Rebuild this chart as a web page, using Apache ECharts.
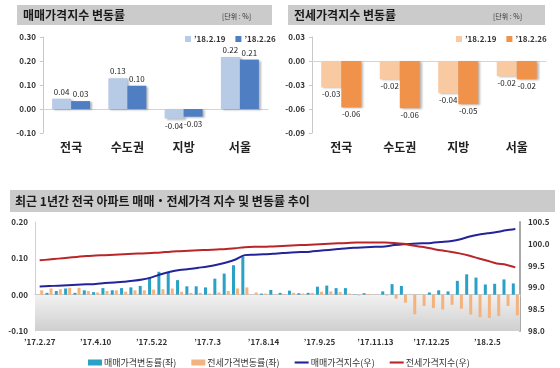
<!DOCTYPE html>
<html><head><meta charset="utf-8">
<script src="https://cdn.jsdelivr.net/npm/echarts@6/dist/echarts.min.js"></script>
<style>
html,body{margin:0;padding:0;background:#fff;width:560px;height:368px;overflow:hidden}
#a,#b,#c{position:absolute}
#a{left:0;top:0;width:280px;height:185px}
#b{left:280px;top:0;width:280px;height:185px}
#c{left:0;top:185px;width:560px;height:183px}
</style></head><body>
<div id="a"></div><div id="b"></div><div id="c"></div>
<script>
// ---------- data ----------
const regions = ['전국', '수도권', '지방', '서울'];
const weekNames = ['\u201918.2.19', '\u201918.2.26'];
const saleChg219 = [0.043, 0.128, -0.04, 0.217];
const saleChg226 = [0.033, 0.097, -0.032, 0.206];
const jeonseChg219 = [-0.033, -0.023, -0.04, -0.019];
const jeonseChg226 = [-0.058, -0.059, -0.054, -0.023];
const saleTicks = [-0.1, 0.3, 0.1];      // min, max, step
const jeonseTicks = [-0.09, 0.03, 0.03];
const trendLeftTicks = [-0.1, 0.2, 0.1];
const trendRightTicks = [98, 100.5, 0.5];

const weeks = ["'17.2.27","'17.3.6","'17.3.13","'17.3.20","'17.3.27","'17.4.3","'17.4.10","'17.4.17","'17.4.24","'17.5.1",
"'17.5.8","'17.5.15","'17.5.22","'17.5.29","'17.6.5","'17.6.12","'17.6.19","'17.6.26","'17.7.3","'17.7.10",
"'17.7.17","'17.7.24","'17.7.31","'17.8.7","'17.8.14","'17.8.21","'17.8.28","'17.9.4","'17.9.11","'17.9.18",
"'17.9.25","'17.10.9","'17.10.16","'17.10.23","'17.10.30","'17.11.6","'17.11.13","'17.11.20","'17.11.27","'17.12.4",
"'17.12.11","'17.12.18","'17.12.25","'18.1.1","'18.1.8","'18.1.15","'18.1.22","'18.1.29","'18.2.5","'18.2.12",
"'18.2.19","'18.2.26"].map(s => s.replace("'", '\u2019'));
const saleWeekly = [0.00,0.005,0.01,0.017,0.005,0.012,0.007,0.018,0.012,0.018,
0.02,0.024,0.046,0.063,0.06,0.04,0.023,0.023,0.02,0.044,
0.058,0.081,0.105,0.00,0.003,0.013,0.005,0.011,0.004,0.005,
0.022,0.025,0.018,0.018,0.001,0.004,0.00,0.009,0.029,0.024,
0.00,0.00,0.006,0.012,0.009,0.038,0.056,0.047,0.028,0.03,
0.042,0.031];
const jeonseWeekly = [0.012,0.017,0.015,0.019,0.019,0.01,0.006,0.01,0.012,0.008,
0.012,0.012,0.014,0.015,0.017,0.008,0.005,0.005,0.003,0.006,
0.01,0.017,0.02,0.006,0.003,0.001,0.002,0.005,0.003,0.005,
0.008,0.009,0.007,0.003,-0.002,0.002,0.00,-0.002,-0.011,-0.022,
-0.054,-0.031,-0.037,-0.041,-0.028,-0.039,-0.055,-0.062,-0.064,-0.059,
-0.031,-0.057];
const saleIndex = [99.02,99.03,99.04,99.05,99.06,99.07,99.08,99.10,99.11,99.13,
99.15,99.18,99.23,99.30,99.36,99.40,99.42,99.45,99.48,99.52,
99.57,99.64,99.74,99.75,99.76,99.77,99.79,99.80,99.81,99.82,
99.84,99.86,99.88,99.90,99.91,99.92,99.93,99.94,99.97,99.99,
100.00,100.01,100.02,100.04,100.06,100.10,100.16,100.21,100.24,100.27,
100.31,100.34];
const jeonseIndex = [99.62,99.64,99.66,99.68,99.70,99.72,99.73,99.74,99.75,99.76,
99.77,99.78,99.79,99.80,99.82,99.83,99.84,99.85,99.86,99.87,
99.88,99.90,99.92,99.93,99.93,99.94,99.95,99.96,99.97,99.98,
99.99,100.00,100.01,100.02,100.03,100.03,100.03,100.03,100.02,100.00,
99.96,99.93,99.89,99.85,99.82,99.78,99.73,99.67,99.61,99.55,
99.52,99.46];

// ---------- helpers ----------
const FONT = "'Noto Sans CJK KR', 'Noto Sans', sans-serif";
const HEADER = '#cbcbcb';
function header(x, y, w, h, title, tx, size, unitX) {
  const g = [
    {type:'rect', shape:{x:x, y:y, width:w, height:h}, style:{fill:HEADER}, z:0},
    {type:'text', style:{text:title, x:tx, y:y+h/2, fill:'#1a1a1a', fontSize:size, fontWeight:'bold', fontFamily:FONT, verticalAlign:'middle'}, z:1}
  ];
  if (unitX != null) g.push({type:'text', style:{text:'[단위 : %]', x:unitX, y:y+h/2+1, fill:'#333', fontSize:7, fontFamily:FONT, verticalAlign:'middle'}, z:1});
  return g;
}
function barData(arr) {
  return arr.map(v => ({value:v, label:{position: v < 0 ? 'bottom' : 'top'}}));
}
function smallBarChart(el, opts) {
  const c = echarts.init(el, null, {renderer:'canvas'});
  const lab = {show:true, fontSize:8, color:'#222', distance:3, fontFamily:FONT, formatter:p => p.value.toFixed(2)};
  const shadow = {shadowColor:'rgba(0,0,0,0.28)', shadowBlur:2, shadowOffsetX:2, shadowOffsetY:1};
  c.setOption({
    animation:false,
    textStyle:{fontFamily:FONT},
    graphic: header(opts.hx, 5, opts.hw, 20, opts.title, opts.hx + 6, 12, opts.unitX),
    legend:{left:opts.legendLeft, top:30, width:120, orient:'horizontal', itemWidth:6, itemHeight:6, itemGap:10, icon:'rect',
      textStyle:{fontSize:8, color:'#333', fontWeight:'bold', padding:[0,0,0,-2]}, data:weekNames},
    grid:{left:opts.left, right:opts.right, top:37, bottom:52},
    xAxis:[
      {type:'category', data:regions, axisLine:{show:false, onZero:false}, axisTick:{show:false},
       axisLabel:{fontSize:12, fontWeight:'bold', color:'#222', margin:8}},
      {type:'category', data:regions, position:'bottom', axisLine:{show:true, onZero:true, lineStyle:{color:'#d4d4d4'}},
       axisTick:{show:false}, axisLabel:{show:false}}
    ],
    yAxis:{type:'value', min:opts.ticks[0], max:opts.ticks[1], interval:opts.ticks[2],
      axisLine:{show:true, lineStyle:{color:'#c8c8c8'}}, axisTick:{show:true, length:3, lineStyle:{color:'#c8c8c8'}},
      splitLine:{show:false},
      axisLabel:{fontSize:8, color:'#333', fontWeight:'bold', margin:7, formatter:v => v.toFixed(2)}},
    series:[
      {name:weekNames[0], type:'bar', data:barData(opts.a), barWidth:opts.bw, barGap:'0%',
       itemStyle:Object.assign({color:opts.c1}, shadow), label:lab},
      {name:weekNames[1], type:'bar', data:barData(opts.b), barWidth:opts.bw, barGap:'0%',
       itemStyle:Object.assign({color:opts.c2}, shadow), label:lab}
    ]
  });
}

smallBarChart(document.getElementById('a'), {
  hx:17, hw:255, title:'매매가격지수 변동률', unitX:222, legendLeft:180,
  left:43, right:12, ticks:saleTicks, bw:19, a:saleChg219, b:saleChg226, c1:'#b7cae6', c2:'#4f7fc2'
});
smallBarChart(document.getElementById('b'), {
  hx:8, hw:257, title:'전세가격지수 변동률', unitX:213, legendLeft:171,
  left:32, right:14, ticks:jeonseTicks, bw:20, a:jeonseChg219, b:jeonseChg226, c1:'#f9c9a2', c2:'#f0924a'
});

// ---------- bottom trend chart ----------
const cc = echarts.init(document.getElementById('c'), null, {renderer:'canvas'});
const lineIcon = 'path://M0,0 H20 V3 H0 Z';
cc.setOption({
  animation:false,
  textStyle:{fontFamily:FONT},
  graphic: header(10, 5, 545, 22, '최근 1년간 전국 아파트 매매・전세가격 지수 및 변동률 추이', 15, 12, null),
  legend:{left:83, top:168, itemWidth:14, itemHeight:6, itemGap:15,
    textStyle:{fontSize:9, color:'#333', padding:[0,0,0,-3]},
    data:[
      {name:'매매가격변동률(좌)', icon:'rect'},
      {name:'전세가격변동률(좌)', icon:'rect'},
      {name:'매매가격지수(우)', icon:lineIcon},
      {name:'전세가격지수(우)', icon:lineIcon}
    ]},
  grid:{left:35, right:40, top:37, bottom:37},
  xAxis:[
    {type:'category', data:weeks, axisLine:{show:false, onZero:false}, axisTick:{show:false},
     axisLabel:{interval:5, fontSize:8, fontWeight:'bold', color:'#333', margin:7}},
    {type:'category', data:weeks, position:'bottom',
     axisLine:{show:true, onZero:true, onZeroAxisIndex:0, lineStyle:{color:'#bdbdbd'}},
     axisTick:{show:true, interval:0, length:2, lineStyle:{color:'#bdbdbd'}}, axisLabel:{show:false}}
  ],
  yAxis:[
    {type:'value', min:trendLeftTicks[0], max:trendLeftTicks[1], interval:trendLeftTicks[2],
     axisLine:{show:true, lineStyle:{color:'#d0d0d0'}}, axisTick:{show:false}, splitLine:{show:false},
     axisLabel:{fontSize:8, fontWeight:'bold', color:'#333', margin:7, formatter:v => v.toFixed(2)}},
    {type:'value', min:trendRightTicks[0], max:trendRightTicks[1], interval:trendRightTicks[2],
     axisLine:{show:true, lineStyle:{color:'#a8a8a8', width:2}}, axisTick:{show:false}, splitLine:{show:false},
     axisLabel:{fontSize:8, fontWeight:'bold', color:'#333', margin:8, formatter:v => v.toFixed(1)}}
  ],
  series:[
    {name:'매매가격변동률(좌)', type:'bar', data:saleWeekly, barWidth:3, barGap:'35%',
     itemStyle:{color:'#2aa1c6'},
     markArea:{silent:true, itemStyle:{color:{type:'linear', x:0, y:0, x2:0, y2:1,
        colorStops:[{offset:0, color:'#f2f2f2'}, {offset:1, color:'#cfcfcf'}]}},
        data:[[{yAxis:0}, {yAxis:trendLeftTicks[0]}]]}},
    {name:'전세가격변동률(좌)', type:'bar', data:jeonseWeekly, barWidth:3, barGap:'35%',
     itemStyle:{color:'#f4b27f'}},
    {name:'매매가격지수(우)', type:'line', yAxisIndex:1, data:saleIndex, symbol:'none', smooth:0.3,
     lineStyle:{color:'#23239a', width:2}, itemStyle:{color:'#23239a'}},
    {name:'전세가격지수(우)', type:'line', yAxisIndex:1, data:jeonseIndex, symbol:'none', smooth:0.3,
     lineStyle:{color:'#b8262a', width:2}, itemStyle:{color:'#b8262a'}}
  ]
});
</script>
</body></html>
